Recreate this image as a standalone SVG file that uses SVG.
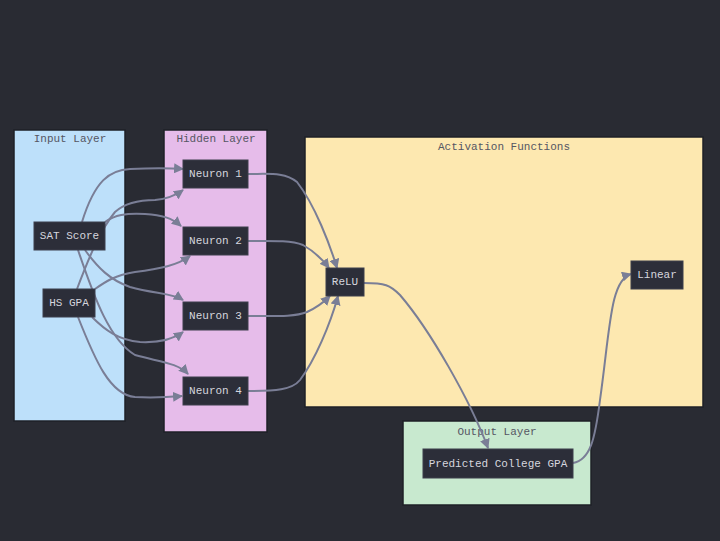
<svg xmlns="http://www.w3.org/2000/svg" width="720" height="541" viewBox="0 0 720 541">
<defs>
<marker id="arr" viewBox="0 0 10 10" refX="9" refY="5" markerWidth="5" markerHeight="5" orient="auto-start-reverse" markerUnits="strokeWidth">
<path d="M0,0 L10,5 L0,10 z" fill="#7a7e96"/>
</marker>
<style>
.cl{stroke:#1e2027;stroke-width:1.5}
.ct{font-family:"Liberation Mono","DejaVu Sans Mono",monospace;font-size:11px;fill:#555663;text-anchor:middle}
.nd{fill:#2c2e39;stroke:#3c3f4c;stroke-width:1}
.nt{font-family:"Liberation Mono","DejaVu Sans Mono",monospace;font-size:11px;fill:#d6d6de;text-anchor:middle;dominant-baseline:central}
.e{fill:none;stroke:#7a7e96;stroke-width:2;marker-end:url(#arr)}
</style>
</defs>
<rect width="720" height="541" fill="#292b33"/>
<g id="cluster-input"><rect class="cl" x="14" y="130" width="111" height="291" fill="#bde0fa"/><text class="ct" x="70" y="142">Input Layer</text></g>
<g id="cluster-hidden"><rect class="cl" x="164" y="130" width="103" height="302" fill="#e6bcea"/><text class="ct" x="216" y="142">Hidden Layer</text></g>
<g id="cluster-activation"><rect class="cl" x="305" y="137" width="398" height="270" fill="#fde8b0"/><text class="ct" x="504" y="150">Activation Functions</text></g>
<g id="cluster-output"><rect class="cl" x="403" y="421" width="188" height="84" fill="#c8e9cf"/><text class="ct" x="497" y="435">Output Layer</text></g>
<g id="connectors">
<path class="e" d="M82,222 C95,180 110,170 130,169 C150,168 170,168 183,169"/>
<path class="e" d="M77,289 C88,260 100,230 115,212 C125,203 140,200 155,200 C168,199 176,195 183,190"/>
<path class="e" d="M105,222 C115,215 125,213 145,214 C162,215 172,218 181,226"/>
<path class="e" d="M95,289 C105,282 115,275 135,272 C160,269 178,265 190,256"/>
<path class="e" d="M85,250 C98,268 110,280 130,287 C155,294 172,293 183,300"/>
<path class="e" d="M78,250 C95,300 110,340 135,355 C160,362 178,363 188,374"/>
<path class="e" d="M92,317 C105,330 118,340 140,342 C160,343 175,338 183,332"/>
<path class="e" d="M78,317 C95,360 110,395 135,397 C155,398 170,397 182,396"/>
<path class="e" d="M248,174 C270,174 285,172 297,182 C315,205 330,245 337,268"/>
<path class="e" d="M248,241 C270,241 290,240 303,245 C315,252 323,260 329,268"/>
<path class="e" d="M248,316 C275,316 295,317 307,312 C318,307 325,301 330,296"/>
<path class="e" d="M248,391 C275,391 292,390 300,380 C315,360 330,325 338,296"/>
<path class="e" d="M364,283 C385,283 390,285 400,295 C430,330 470,400 488,448"/>
<path class="e" d="M573,463 C590,460 595,440 600,400 C610,330 610,280 631,274"/>
</g>
<g id="node-sat"><rect class="nd" x="34" y="222" width="71" height="28"/><text class="nt" x="69.5" y="236">SAT Score</text></g>
<g id="node-hsgpa"><rect class="nd" x="43" y="289" width="52" height="28"/><text class="nt" x="69" y="303">HS GPA</text></g>
<g id="node-n1"><rect class="nd" x="183" y="160" width="65" height="28"/><text class="nt" x="215.5" y="174">Neuron 1</text></g>
<g id="node-n2"><rect class="nd" x="183" y="227" width="65" height="28"/><text class="nt" x="215.5" y="241">Neuron 2</text></g>
<g id="node-n3"><rect class="nd" x="183" y="302" width="65" height="28"/><text class="nt" x="215.5" y="316">Neuron 3</text></g>
<g id="node-n4"><rect class="nd" x="183" y="377" width="65" height="28"/><text class="nt" x="215.5" y="391">Neuron 4</text></g>
<g id="node-relu"><rect class="nd" x="326" y="268" width="38" height="28"/><text class="nt" x="345" y="282">ReLU</text></g>
<g id="node-linear"><rect class="nd" x="631" y="261" width="52" height="28"/><text class="nt" x="657" y="275">Linear</text></g>
<g id="node-pred"><rect class="nd" x="423" y="449" width="150" height="29"/><text class="nt" x="498" y="463.5">Predicted College GPA</text></g>
</svg>
